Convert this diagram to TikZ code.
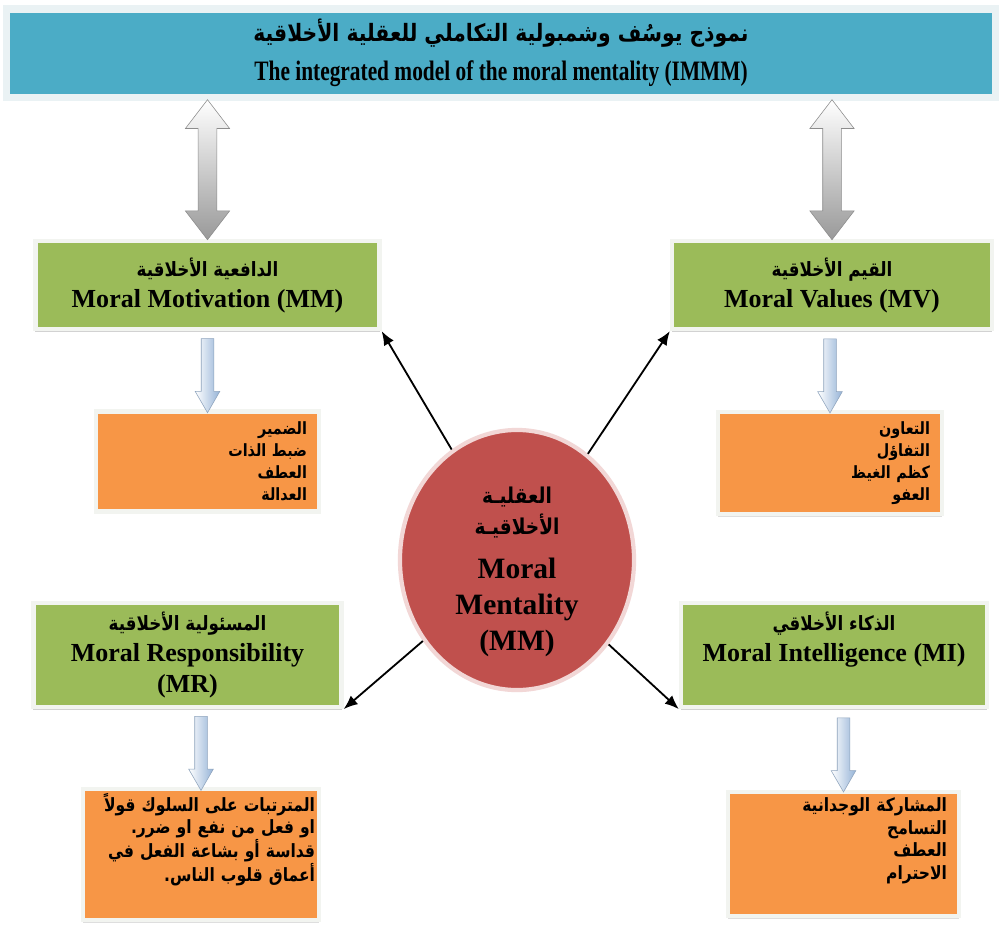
\documentclass[tikz,border=0pt]{standalone}
\usepackage{fontspec}
\setmainfont{Liberation Serif}
\newfontfamily\arabicfont[Script=Arabic,FakeStretch=0.85]{DejaVu Sans}
\newfontfamily\titlefont[FakeStretch=0.76]{Liberation Serif}
\TeXXeTstate=1
\usetikzlibrary{positioning}
\usetikzlibrary{calc}
\usetikzlibrary{arrows.meta}
\usetikzlibrary{shapes.geometric}
\usetikzlibrary{shapes.arrows}
\usetikzlibrary{shadows}

\definecolor{titleblue}{RGB}{75,172,198}
\definecolor{titleframe}{RGB}{234,242,244}
\definecolor{boxgreen}{RGB}{155,187,89}
\definecolor{boxorange}{RGB}{247,150,70}
\definecolor{boxframe}{RGB}{242,244,240}
\definecolor{circred}{RGB}{192,80,77}
\definecolor{circrim}{RGB}{242,215,214}
\definecolor{arrowblue}{RGB}{149,179,215}

\newcommand{\artxt}[1]{{\arabicfont\bfseries\beginR #1\endR}}

\begin{document}
\begin{tikzpicture}[x=0.025cm,y=-0.025cm,
  titlebar/.style={rectangle, fill=titleblue, draw=titleframe, line width=5pt,
    drop shadow={shadow xshift=0pt, shadow yshift=-2pt, fill=black!30},
    minimum width=24.7cm, minimum height=2.2cm, align=center,
    font=\fontsize{20}{28}\selectfont\bfseries},
  greenbox/.style={rectangle, fill=boxgreen, draw=boxframe, line width=3pt,
    drop shadow={shadow xshift=0pt, shadow yshift=-2pt, fill=black!35},
    align=center, font=\fontsize{18.5}{22}\selectfont\bfseries},
  orangebox/.style={rectangle, fill=boxorange, draw=boxframe, line width=3pt,
    drop shadow={shadow xshift=0pt, shadow yshift=-2pt, fill=black!25},
    align=right, inner xsep=0.3cm, font=\fontsize{12}{15.6}\selectfont},
  bigarrow/.style={double arrow, rotate=90, draw=gray!90, top color=white, bottom color=gray!80,
    minimum height=3.5cm, inner xsep=0pt, inner ysep=0.225cm,
    double arrow head extend=0.32cm, double arrow tip angle=75},
  smallarrow/.style={single arrow, rotate=-90, draw=arrowblue!70!gray, left color=white, right color=arrowblue,
    minimum height=1.85cm, inner xsep=0pt, inner ysep=0.15cm,
    single arrow head extend=0.15cm, single arrow tip angle=60},
  link/.style={-{Latex[length=10pt,width=8pt]}, line width=1.3pt}]

\path[use as bounding box, fill=white] (0,0) rectangle (1002,929);

% title
\node[titlebar] (title) at (501,53)
  {{\fontsize{17}{28}\selectfont\artxt{نموذج يوسُف وشمبولية التكاملي للعقلية الأخلاقية}}\\
   {\titlefont The integrated model of the moral mentality (IMMM)}};

% the four dimensions
\node[greenbox, minimum width=8.6cm, minimum height=2.2cm] (mot) at (207.5,285)
  {{\fontsize{14}{22}\selectfont\artxt{الدافعية الأخلاقية}}\\ Moral Motivation (MM)};
\node[greenbox, minimum width=8cm, minimum height=2.2cm] (val) at (832,285)
  {{\fontsize{14}{22}\selectfont\artxt{القيم الأخلاقية}}\\ Moral Values (MV)};
\node[greenbox, minimum width=7.7cm, minimum height=2.6cm] (res) at (187.5,655)
  {{\fontsize{14}{22}\selectfont\artxt{المسئولية الأخلاقية}}\\ Moral Responsibility\\ (MR)};
\node[greenbox, minimum width=7.65cm, minimum height=2.6cm, text depth=0.9cm] (intl) at (834,655)
  {{\fontsize{14}{22}\selectfont\artxt{الذكاء الأخلاقي}}\\ Moral Intelligence (MI)};

% lists
\node[orangebox, text width=4.975cm, minimum height=2.5cm] (motlist) at (207.5,461.5)
  {\artxt{الضمير}\\ \artxt{ضبط الذات}\\ \artxt{العطف}\\ \artxt{العدالة}};
\node[orangebox, text width=5cm, minimum height=2.55cm] (vallist) at (830,463)
  {\artxt{التعاون}\\ \artxt{التفاؤل}\\ \artxt{كظم الغيظ}\\ \artxt{العفو}};
\node[orangebox, text width=5.7cm, inner xsep=0.1cm, minimum height=3.2cm, text depth=2.6cm,
  font=\fontsize{13}{16}\selectfont] (reslist) at (201,854.5)
  {\artxt{المترتبات على السلوك قولاً}\\ \artxt{او فعل من نفع او ضرر.}\\
   \artxt{قداسة أو بشاعة الفعل في}\\ \artxt{أعماق قلوب الناس.}};
\node[orangebox, text width=5.175cm, minimum height=3.1cm, text depth=2.45cm,
  font=\fontsize{13}{16}\selectfont] (intlist) at (843.5,854)
  {\artxt{المشاركة الوجدانية}\\ \artxt{التسامح}\\ \artxt{العطف}\\ \artxt{الاحترام}};

% centre
\node[ellipse, fill=circred, draw=circrim, line width=3pt, minimum width=5.85cm, minimum height=6.5cm] (core) at (517,560) {};
\node[align=center, font=\fontsize{21}{25.6}\selectfont\bfseries] (corelabel) at ($(core.center)+(0,12)$)
  {{\fontsize{15.5}{25.6}\selectfont\artxt{العقليـة}}\\[-4pt] {\fontsize{15.5}{25.6}\selectfont\artxt{الأخلاقيـة}}\\[6pt]
   Moral\\ Mentality\\ (MM)};

% arrows
\node[bigarrow] (dmot) at ($(title.south -| mot.north)!0.5!(mot.north)$) {};
\node[bigarrow] (dval) at ($(title.south -| val.north)!0.5!(val.north)$) {};
\node[smallarrow] (smot) at ($(motlist.north)!0.5!(motlist.north |- mot.south)$) {};
\node[smallarrow] (sval) at ($(vallist.north)!0.5!(vallist.north |- val.south)$) {};
\node[smallarrow] (sres) at ($(reslist.north)!0.5!(reslist.north |- res.south)$) {};
\node[smallarrow] (sint) at ($(intlist.north)!0.5!(intlist.north |- intl.south)$) {};

\draw[link] (core) -- (mot.south east);
\draw[link] (core) -- (val.south west);
\draw[link] (core) -- (res.south east);
\draw[link] (core) -- (intl.south west);

\end{tikzpicture}
\end{document}
